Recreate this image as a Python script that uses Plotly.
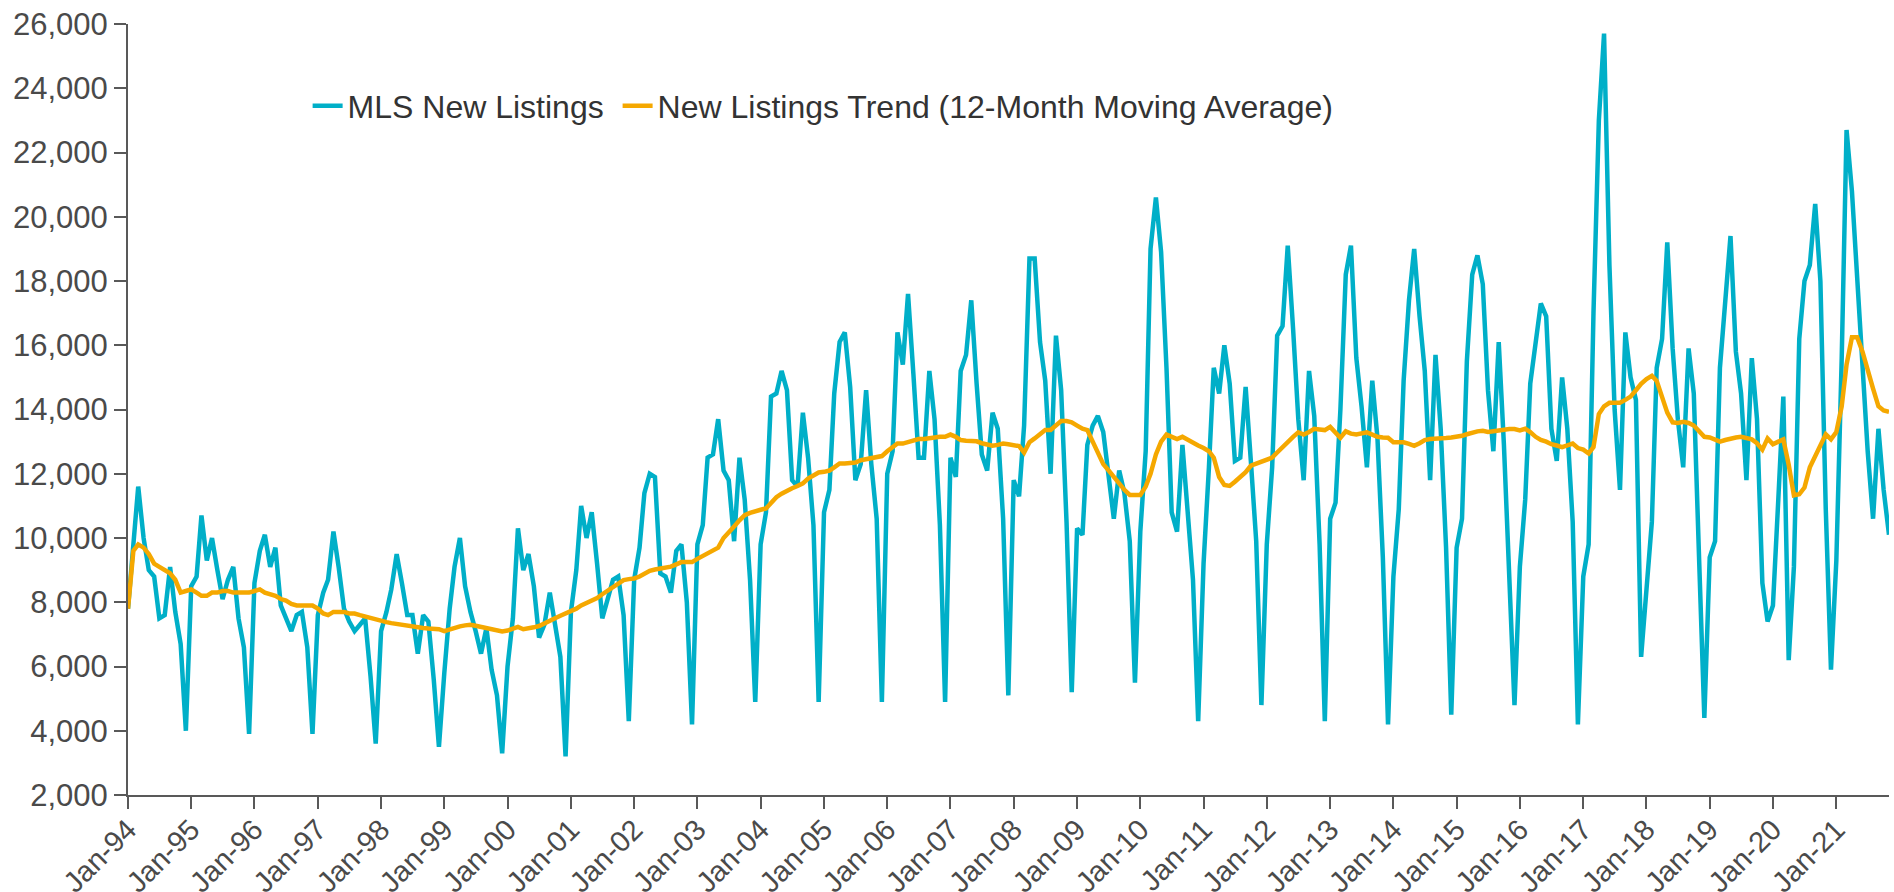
import pandas as pd
import plotly.graph_objects as go

# Monthly dates, Jan-1994 .. Nov-2021
months = pd.date_range("1994-01-01", "2021-11-01", freq="MS")

# MLS New Listings
new_listings = [
    7800, 9700, 11600, 10000, 9000, 8800, 7500, 7600, 9100, 7700, 6700, 4000,      # 1994
    8500, 8800, 10700, 9300, 10000, 9000, 8100, 8700, 9100, 7500, 6600, 3900,      # 1995
    8600, 9600, 10100, 9100, 9700, 7900, 7500, 7100, 7600, 7700, 6600, 3900,      # 1996
    7600, 8300, 8700, 10200, 9100, 7800, 7400, 7100, 7300, 7500, 5700, 3600,      # 1997
    7100, 7700, 8400, 9500, 8600, 7600, 7600, 6400, 7600, 7400, 5600, 3500,       # 1998
    5800, 7800, 9100, 10000, 8500, 7700, 7100, 6400, 7200, 5900, 5100, 3300,      # 1999
    6000, 7500, 10300, 9000, 9500, 8500, 6900, 7300, 8300, 7400, 6300, 3200,      # 2000
    7700, 9000, 11000, 10000, 10800, 9200, 7500, 8100, 8700, 8800, 7600, 4300,    # 2001
    8700, 9700, 11400, 12000, 11900, 8900, 8800, 8300, 9600, 9800, 8000, 4200,    # 2002
    9800, 10400, 12500, 12600, 13700, 12100, 11800, 9900, 12500, 11200, 8700, 4900,   # 2003
    9800, 10800, 14400, 14500, 15200, 14600, 11800, 11600, 13900, 12500, 10400, 4900, # 2004
    10800, 11500, 14500, 16100, 16400, 14700, 11800, 12300, 14600, 12300, 10600, 4900, # 2005
    12000, 12700, 16400, 15400, 17600, 15100, 12500, 12500, 15200, 13700, 10400, 4900, # 2006
    12500, 11900, 15200, 15700, 17400, 14800, 12600, 12100, 13900, 13400, 10600, 5100, # 2007
    11800, 11300, 13500, 18700, 18700, 16100, 14900, 12000, 16300, 14600, 10500, 5200, # 2008
    10300, 10100, 12900, 13500, 13800, 13300, 12000, 10600, 12100, 11400, 9900, 5500,  # 2009
    10200, 12700, 19000, 20600, 18900, 15300, 10800, 10200, 12900, 10900, 8700, 4300,  # 2010
    9200, 12200, 15300, 14500, 16000, 14800, 12400, 12500, 14700, 12400, 9900, 4800,  # 2011
    9800, 12200, 16300, 16600, 19100, 16500, 13700, 11800, 15200, 13800, 9800, 4300,  # 2012
    10600, 11100, 14000, 18200, 19100, 15600, 14100, 12200, 14900, 13100, 9400, 4200, # 2013
    8800, 10900, 14900, 17400, 19000, 16900, 15200, 11800, 15700, 13400, 9700, 4500,  # 2014
    9700, 10600, 15500, 18200, 18800, 17900, 14600, 12700, 16100, 12900, 9100, 4800,  # 2015
    9100, 11200, 14800, 16200, 17300, 16900, 13400, 12400, 15000, 13400, 10500, 4200, # 2016
    8800, 9800, 17000, 23000, 25700, 18500, 14000, 11500, 16400, 15000, 14300, 6300,  # 2017
    8500, 10500, 15300, 16200, 19200, 15900, 13700, 12200, 15900, 14500, 9300, 4400,  # 2018
    9400, 9900, 15300, 17200, 19400, 15800, 14500, 11800, 15600, 13700, 8600, 7400,   # 2019
    7900, 11200, 14400, 6200, 9100, 16200, 18000, 18500, 20400, 18000, 10900, 5900,  # 2020
    9300, 15600, 22700, 20800, 18000, 15000, 12700, 10600, 13400, 11500, 10100,       # 2021
]

# New Listings Trend (12-month moving average)
trend = [
    7800, 9600, 9800, 9700, 9500, 9200, 9100, 9000, 8900, 8700, 8300, 8350,
    8400, 8300, 8200, 8200, 8300, 8300, 8350, 8350, 8300, 8300, 8300, 8300,
    8350, 8400, 8300, 8250, 8200, 8100, 8050, 7950, 7900, 7900, 7900, 7900,
    7800, 7650, 7600, 7700, 7700, 7700, 7650, 7650, 7600, 7550, 7500, 7450,
    7420, 7380, 7350, 7320, 7300, 7280, 7250, 7230, 7200, 7180, 7160, 7160,
    7100, 7150, 7220, 7250, 7280, 7300, 7270, 7230, 7190, 7150, 7100, 7090,
    7120, 7160, 7230, 7160, 7180, 7220, 7260, 7330, 7400, 7500, 7580, 7640,
    7720, 7800, 7900, 7980, 8080, 8130, 8250, 8370, 8470, 8580, 8690, 8720,
    8740, 8800, 8900, 8980, 9020, 9050, 9080, 9110, 9180, 9250, 9250, 9250,
    9350, 9450, 9530, 9600, 9700, 10000, 10200, 10360, 10550, 10710, 10780, 10840,
    10880, 10920, 11100, 11270, 11380, 11480, 11550, 11620, 11700, 11850, 11950, 12040,
    12060, 12100, 12200, 12320, 12320, 12320, 12350, 12420, 12450, 12480, 12520, 12550,
    12700, 12820, 12940, 12940, 12980, 13030, 13080, 13080, 13100, 13150, 13150, 13150,
    13220, 13150, 13050, 13030, 13020, 13010, 12950, 12900, 12870, 12900, 12940, 12920,
    12890, 12860, 12660, 12980, 13100, 13220, 13360, 13360, 13500, 13640, 13640, 13600,
    13500, 13400, 13360, 13000, 12590, 12300, 12110, 11900, 11700, 11500, 11340, 11340,
    11340, 11600, 12000, 12600, 13000, 13220, 13150, 13080, 13150, 13050, 12940, 12880,
    12800, 12700, 12500, 11900, 11650, 11620, 11750, 11900, 12050, 12250, 12320, 12390,
    12440, 12500, 12660, 12830, 13010, 13150, 13290, 13220, 13300, 13400, 13380, 13360,
    13460, 13300, 13120, 13320, 13250, 13220, 13260, 13290, 13220, 13150, 13130, 13120,
    12980, 12980, 12980, 12930, 12870, 12950, 13050, 13080, 13080, 13090, 13110, 13130,
    13150, 13180, 13230, 13290, 13320, 13340, 13300, 13320, 13350, 13370, 13390, 13390,
    13350, 13400, 13300, 13150, 13050, 13000, 12920, 12880, 12830, 12880, 12940, 12800,
    12750, 12630, 12830, 13860, 14100, 14210, 14210, 14210, 14300, 14400, 14600, 14800,
    14950, 15050, 14890, 14400, 13900, 13600, 13580, 13620, 13580, 13500, 13300, 13150,
    13130, 13080, 13000, 13050, 13100, 13130, 13150, 13100, 13070, 12950, 12750, 13100,
    12920, 13000, 13070, 12280, 11330, 11360, 11570, 12200, 12550, 12830, 13230, 13070,
    13300, 14100, 15400, 16250, 16250, 15800, 15200, 14650, 14100, 13970, 13930,
]

y_ticks = list(range(2000, 26001, 2000))

FONT = "Liberation Sans, Arial, Helvetica, sans-serif"
AXIS_COL = "#595959"
TEXT_COL = "#4a4a4a"

fig = go.Figure()
fig.add_trace(go.Scatter(
    x=months, y=new_listings, mode="lines", name="MLS New Listings\u00a0",
    line=dict(color="#00AFC8", width=4.5),
))
fig.add_trace(go.Scatter(
    x=months, y=trend, mode="lines",
    name="New Listings Trend (12-Month Moving Average)",
    line=dict(color="#F5A800", width=4.5),
))

fig.update_layout(
    width=1894, height=892,
    margin=dict(l=128, r=5, t=24, b=97, autoexpand=False),
    paper_bgcolor="white", plot_bgcolor="white",
    font=dict(family=FONT, color=TEXT_COL, size=30),
    showlegend=True,
    legend=dict(
        orientation="h", x=0.102, y=0.8936, xanchor="left", yanchor="middle",
        font=dict(family=FONT, size=32, color="#333333"),
        bgcolor="rgba(0,0,0,0)", itemwidth=30,
    ),
    xaxis=dict(
        type="date", automargin=False,
        range=[months[0], months[-1]],
        tick0="1994-01-01", dtick="M12", tickformat="%b-%y",
        tickangle=-45, ticklabeloverflow="allow", ticklabelstandoff=-8,
        showgrid=False, zeroline=False,
        showline=True, linecolor=AXIS_COL, linewidth=2,
        ticks="outside", ticklen=12, tickwidth=2, tickcolor=AXIS_COL,
        tickfont=dict(family=FONT, size=29, color=TEXT_COL),
    ),
    yaxis=dict(
        automargin=False,
        range=[2000, 26000], ticklabeloverflow="allow",
        tickvals=y_ticks, tickformat=",d",
        showgrid=False, zeroline=False,
        showline=True, linecolor=AXIS_COL, linewidth=2,
        ticks="outside", ticklen=12, tickwidth=2, tickcolor=AXIS_COL,
        tickfont=dict(family=FONT, size=31, color=TEXT_COL),
    ),
)

# remove the default page margin so the figure fills the window exactly
fig.write_html(
    "out.html",
    config={"displayModeBar": False},
    post_script="document.body.style.margin='0';",
)
